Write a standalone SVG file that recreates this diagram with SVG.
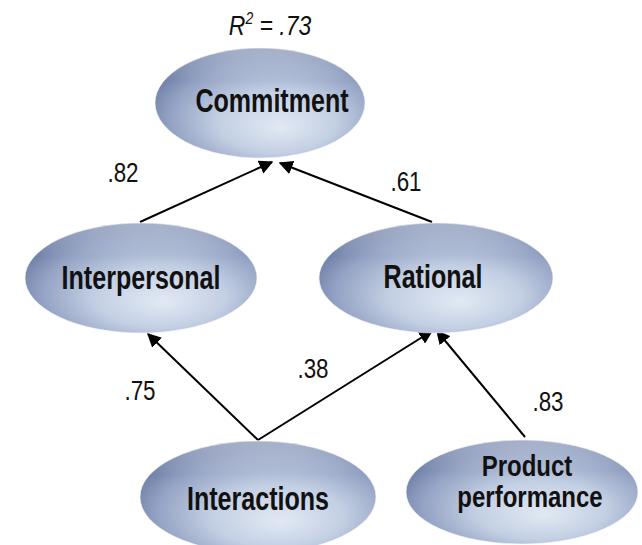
<svg xmlns="http://www.w3.org/2000/svg" width="642" height="545" viewBox="0 0 642 545">
  <defs>
    <radialGradient id="orb" cx="0.56" cy="0.62" r="0.62" fx="0.6" fy="0.72">
      <stop offset="0" stop-color="#e2e9f4"/>
      <stop offset="0.45" stop-color="#c3cfe3"/>
      <stop offset="0.8" stop-color="#94a3c4"/>
      <stop offset="1" stop-color="#6e7ea6"/>
    </radialGradient>
    <linearGradient id="rim" x1="0" y1="0" x2="0" y2="1">
      <stop offset="0" stop-color="#ffffff" stop-opacity="0.4"/>
      <stop offset="0.3" stop-color="#ffffff" stop-opacity="0"/>
    </linearGradient>
    <marker id="head" viewBox="0 0 10 10" refX="9" refY="5" markerWidth="7" markerHeight="7" markerUnits="strokeWidth" orient="auto">
      <path d="M0,0 L10,5 L0,10 z" fill="#000"/>
    </marker>
  </defs>
  <style>
    .node { fill: url(#orb); }
    .gloss { fill: url(#rim); stroke: #f4f6fa; stroke-width: 1; stroke-opacity: 0.6; }
    .name { font-family: "Liberation Sans", Arial, sans-serif; font-weight: bold; font-size: 33px; fill: #111; text-anchor: middle; }
    .small { font-size: 30px; }
    .coef { font-family: "Liberation Sans", Arial, sans-serif; font-size: 28px; fill: #111; text-anchor: middle; }
    .edge { stroke: #000; stroke-width: 2; fill: none; marker-end: url(#head); }
  </style>
  <rect width="642" height="545" fill="#fff"/>

  <g id="connectors">
    <line class="edge" x1="140" y1="222" x2="272" y2="162"/>
    <line class="edge" x1="432" y1="222" x2="280" y2="163"/>
    <line class="edge" x1="258" y1="440" x2="148" y2="334"/>
    <line class="edge" x1="258" y1="440" x2="432" y2="331"/>
    <line class="edge" x1="525" y1="437" x2="437" y2="331"/>
  </g>

  <g id="labels">
    <text class="coef" transform="translate(123,182) scale(0.8,1)">.82</text>
    <text class="coef" transform="translate(406,191) scale(0.8,1)">.61</text>
    <text class="coef" transform="translate(140,400) scale(0.8,1)">.75</text>
    <text class="coef" transform="translate(313,378) scale(0.8,1)">.38</text>
    <text class="coef" transform="translate(548,411) scale(0.8,1)">.83</text>
    <text transform="translate(270,35) scale(0.82,1)" font-family="Liberation Sans, Arial, sans-serif" font-size="28" font-style="italic" fill="#111" text-anchor="middle">R<tspan font-size="17" dy="-11">2</tspan><tspan dy="11"> = .73</tspan></text>
  </g>

  <g id="commitment">
    <ellipse class="node" cx="260" cy="103" rx="105" ry="55"/>
    <ellipse class="gloss" cx="260" cy="103" rx="105" ry="55"/>
    <text class="name" transform="translate(272,112) scale(0.76,1)">Commitment</text>
  </g>

  <g id="interpersonal">
    <ellipse class="node" cx="141" cy="278" rx="116" ry="55"/>
    <ellipse class="gloss" cx="141" cy="278" rx="116" ry="55"/>
    <text class="name" transform="translate(141,289) scale(0.76,1)">Interpersonal</text>
  </g>

  <g id="rational">
    <ellipse class="node" cx="436" cy="278" rx="117" ry="55"/>
    <ellipse class="gloss" cx="436" cy="278" rx="117" ry="55"/>
    <text class="name" transform="translate(433,288) scale(0.76,1)">Rational</text>
  </g>

  <g id="interactions">
    <ellipse class="node" cx="258" cy="497" rx="118" ry="56"/>
    <ellipse class="gloss" cx="258" cy="497" rx="118" ry="56"/>
    <text class="name" transform="translate(258,510) scale(0.76,1)">Interactions</text>
  </g>

  <g id="product-performance">
    <ellipse class="node" cx="522" cy="492" rx="116" ry="52"/>
    <ellipse class="gloss" cx="522" cy="492" rx="116" ry="52"/>
    <text class="name small" transform="translate(527,476) scale(0.8,1)">Product</text>
    <text class="name small" transform="translate(530,507) scale(0.8,1)">performance</text>
  </g>
</svg>
